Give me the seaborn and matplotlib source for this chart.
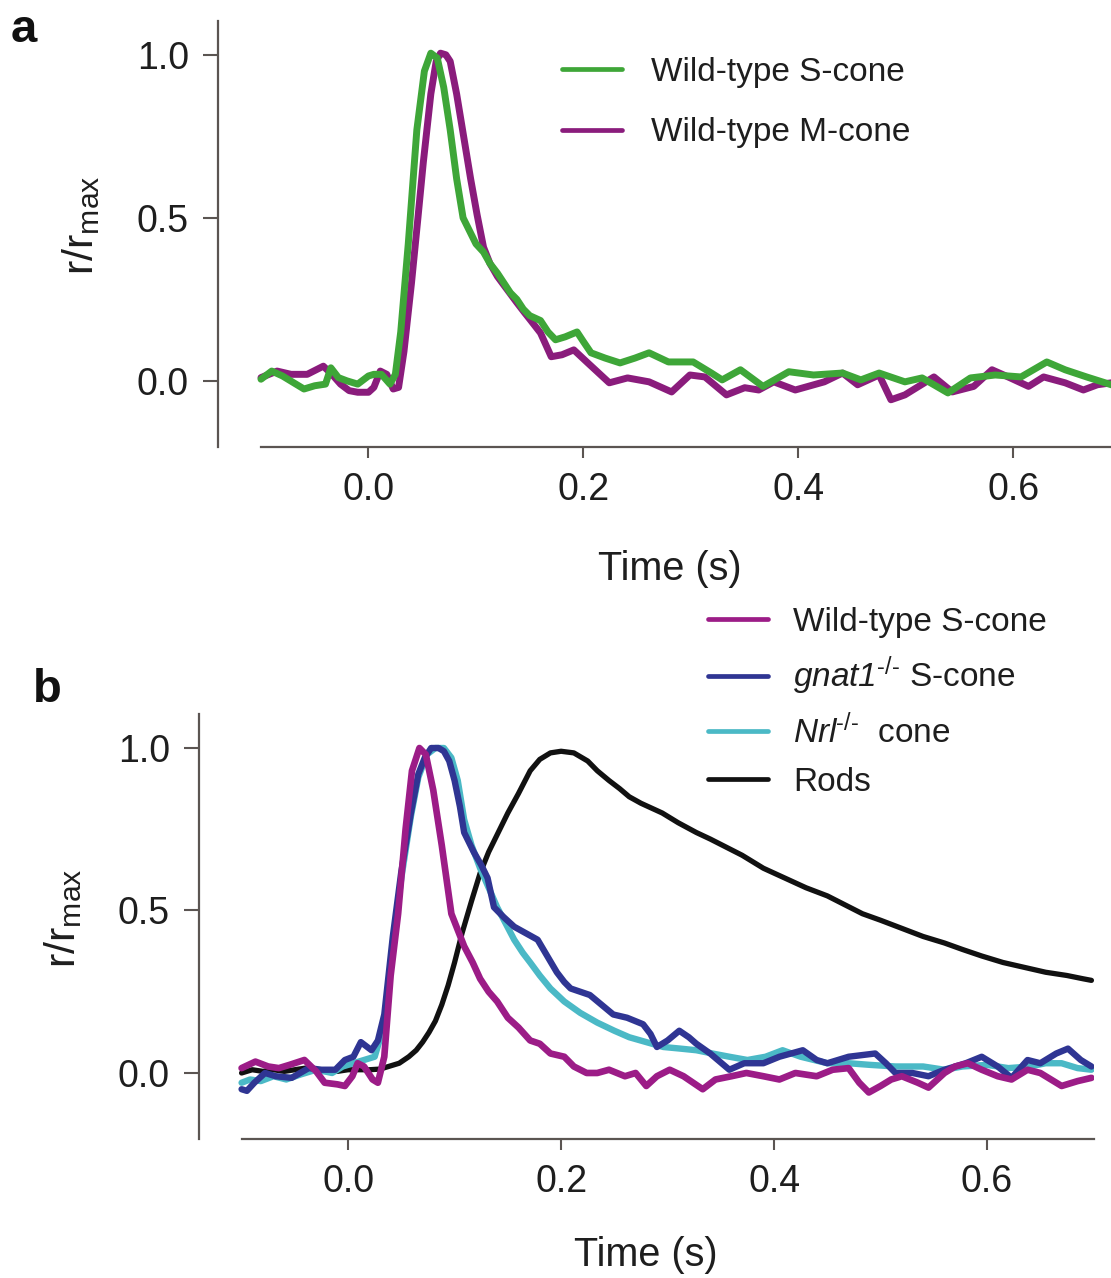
import numpy as np
import pandas as pd
import matplotlib
matplotlib.use("Agg")
import matplotlib.pyplot as plt
import seaborn as sns

# ---- panel a: wild-type S-cone vs M-cone ----
a_s_time = [-0.100, -0.090, -0.080, -0.070, -0.060, -0.050, -0.040, -0.035, -0.028, -0.020,
            -0.010, 0.000, 0.005, 0.012, 0.020, 0.025, 0.030, 0.037, 0.045, 0.052,
            0.058, 0.064, 0.070, 0.076, 0.082, 0.088, 0.094, 0.100, 0.107, 0.113,
            0.120, 0.126, 0.132, 0.138, 0.144, 0.150, 0.160, 0.167, 0.174, 0.183,
            0.194, 0.200, 0.207, 0.220, 0.234, 0.248, 0.261, 0.279, 0.302, 0.319,
            0.329, 0.346, 0.367, 0.391, 0.414, 0.441, 0.458, 0.475, 0.499, 0.515,
            0.539, 0.560, 0.583, 0.607, 0.631, 0.648, 0.668, 0.691, 0.700]
a_s_resp = [0.005, 0.030, 0.015, -0.005, -0.025, -0.015, -0.010, 0.040, 0.010, 0.000,
            -0.010, 0.015, 0.020, 0.020, -0.010, 0.020, 0.150, 0.420, 0.770, 0.950,
            1.005, 0.990, 0.900, 0.770, 0.620, 0.500, 0.460, 0.420, 0.395, 0.360,
            0.330, 0.300, 0.270, 0.250, 0.220, 0.200, 0.185, 0.150, 0.126, 0.135,
            0.150, 0.120, 0.086, 0.070, 0.055, 0.070, 0.086, 0.058, 0.058, 0.024,
            0.003, 0.034, -0.017, 0.028, 0.018, 0.024, 0.003, 0.024, -0.003, 0.009,
            -0.037, 0.009, 0.018, 0.012, 0.058, 0.034, 0.012, -0.012, -0.015]

a_m_time = [-0.100, -0.085, -0.072, -0.057, -0.042, -0.034, -0.026, -0.018, -0.010, 0.000,
            0.005, 0.011, 0.017, 0.023, 0.028, 0.033, 0.040, 0.046, 0.051, 0.058,
            0.063, 0.067, 0.072, 0.076, 0.082, 0.089, 0.095, 0.101, 0.107, 0.113,
            0.120, 0.129, 0.138, 0.145, 0.151, 0.160, 0.170, 0.180, 0.191, 0.204,
            0.224, 0.241, 0.261, 0.282, 0.299, 0.313, 0.333, 0.350, 0.363, 0.377,
            0.397, 0.424, 0.441, 0.455, 0.475, 0.486, 0.499, 0.526, 0.543, 0.563,
            0.580, 0.597, 0.614, 0.628, 0.648, 0.665, 0.678, 0.691, 0.700]
a_m_resp = [0.010, 0.030, 0.020, 0.020, 0.045, 0.020, -0.010, -0.030, -0.035, -0.035,
            -0.020, 0.030, 0.020, -0.025, -0.020, 0.090, 0.300, 0.500, 0.670, 0.880,
            0.980, 1.005, 1.000, 0.980, 0.880, 0.740, 0.620, 0.510, 0.410, 0.360,
            0.320, 0.280, 0.240, 0.210, 0.185, 0.147, 0.074, 0.080, 0.095, 0.055,
            -0.006, 0.009, -0.003, -0.034, 0.018, 0.012, -0.043, -0.021, -0.028, -0.003,
            -0.028, -0.003, 0.024, -0.012, 0.018, -0.058, -0.043, 0.012, -0.034, -0.017,
            0.034, 0.009, -0.017, 0.012, -0.006, -0.028, -0.012, -0.006, -0.010]

# ---- panel b: S-cone, gnat1-/- S-cone, Nrl-/- cone, rods ----
b_wt_time = [-0.100, -0.087, -0.075, -0.065, -0.055, -0.041, -0.030, -0.022, -0.010, -0.003,
             0.004, 0.009, 0.015, 0.023, 0.028, 0.034, 0.040, 0.047, 0.054, 0.060,
             0.067, 0.073, 0.080, 0.088, 0.097, 0.103, 0.109, 0.117, 0.124, 0.132,
             0.140, 0.150, 0.160, 0.171, 0.180, 0.190, 0.203, 0.212, 0.224, 0.234,
             0.245, 0.260, 0.270, 0.280, 0.290, 0.302, 0.315, 0.333, 0.345, 0.360,
             0.374, 0.390, 0.405, 0.420, 0.440, 0.455, 0.470, 0.480, 0.489, 0.500,
             0.510, 0.520, 0.535, 0.545, 0.560, 0.570, 0.582, 0.595, 0.610, 0.623,
             0.638, 0.650, 0.660, 0.670, 0.685, 0.698]
b_wt_resp = [0.015, 0.035, 0.020, 0.015, 0.025, 0.040, 0.005, -0.030, -0.035, -0.040,
             -0.010, 0.030, 0.020, -0.020, -0.030, 0.050, 0.300, 0.490, 0.750, 0.930,
             1.000, 0.980, 0.870, 0.700, 0.490, 0.440, 0.390, 0.340, 0.290, 0.250,
             0.220, 0.170, 0.140, 0.100, 0.090, 0.060, 0.050, 0.020, 0.000, 0.000,
             0.010, -0.010, 0.000, -0.040, -0.010, 0.010, -0.010, -0.050, -0.020, -0.010,
             0.000, -0.010, -0.020, 0.000, -0.010, 0.010, 0.015, -0.030, -0.060, -0.040,
             -0.020, -0.010, -0.030, -0.045, 0.000, 0.020, 0.030, 0.010, -0.010, -0.020,
             0.010, 0.000, -0.020, -0.040, -0.025, -0.015]

b_gnat_time = [-0.100, -0.095, -0.088, -0.078, -0.068, -0.053, -0.045, -0.037, -0.025, -0.012,
               -0.003, 0.005, 0.012, 0.018, 0.022, 0.028, 0.034, 0.042, 0.050, 0.059,
               0.066, 0.072, 0.078, 0.085, 0.090, 0.095, 0.100, 0.105, 0.109, 0.118,
               0.125, 0.131, 0.137, 0.146, 0.156, 0.167, 0.178, 0.187, 0.196, 0.203,
               0.209, 0.218, 0.227, 0.238, 0.249, 0.262, 0.277, 0.284, 0.290, 0.300,
               0.311, 0.320, 0.327, 0.340, 0.358, 0.372, 0.390, 0.405, 0.427, 0.440,
               0.450, 0.470, 0.495, 0.505, 0.514, 0.530, 0.545, 0.560, 0.580, 0.595,
               0.610, 0.623, 0.638, 0.650, 0.665, 0.676, 0.688, 0.698]
b_gnat_resp = [-0.050, -0.055, -0.030, 0.000, -0.010, -0.015, 0.000, 0.015, 0.010, 0.010,
               0.040, 0.050, 0.095, 0.080, 0.070, 0.100, 0.180, 0.420, 0.620, 0.800,
               0.920, 0.970, 1.000, 1.000, 0.990, 0.960, 0.900, 0.820, 0.740, 0.680,
               0.640, 0.600, 0.510, 0.480, 0.450, 0.430, 0.410, 0.360, 0.310, 0.280,
               0.260, 0.250, 0.240, 0.210, 0.180, 0.170, 0.150, 0.120, 0.080, 0.100,
               0.130, 0.110, 0.090, 0.060, 0.010, 0.030, 0.030, 0.050, 0.070, 0.040,
               0.030, 0.050, 0.060, 0.030, 0.000, 0.000, -0.010, 0.010, 0.030, 0.050,
               0.020, -0.015, 0.040, 0.030, 0.060, 0.075, 0.040, 0.020]

b_nrl_time = [-0.100, -0.092, -0.082, -0.070, -0.058, -0.045, -0.030, -0.015, -0.005, 0.005,
              0.015, 0.025, 0.034, 0.042, 0.050, 0.059, 0.066, 0.074, 0.082, 0.090,
              0.097, 0.103, 0.109, 0.116, 0.124, 0.132, 0.140, 0.148, 0.156, 0.164,
              0.171, 0.180, 0.190, 0.203, 0.218, 0.234, 0.250, 0.264, 0.280, 0.296,
              0.312, 0.327, 0.342, 0.358, 0.375, 0.392, 0.408, 0.425, 0.450, 0.470,
              0.490, 0.514, 0.540, 0.560, 0.577, 0.600, 0.620, 0.640, 0.655, 0.670,
              0.685, 0.698]
b_nrl_resp = [-0.030, -0.020, -0.025, -0.010, -0.020, -0.005, 0.010, 0.000, 0.020, 0.030,
              0.040, 0.050, 0.150, 0.400, 0.600, 0.790, 0.910, 0.980, 1.000, 1.000,
              0.970, 0.900, 0.780, 0.700, 0.630, 0.570, 0.510, 0.460, 0.410, 0.370,
              0.340, 0.300, 0.260, 0.220, 0.185, 0.155, 0.130, 0.110, 0.095, 0.080,
              0.075, 0.070, 0.060, 0.050, 0.040, 0.050, 0.070, 0.050, 0.030, 0.030,
              0.025, 0.020, 0.020, 0.010, 0.020, 0.025, 0.015, 0.020, 0.030, 0.030,
              0.015, 0.010]

b_rod_time = [-0.100, -0.090, -0.080, -0.070, -0.060, -0.050, -0.040, -0.030, -0.020, -0.010,
              0.000, 0.010, 0.020, 0.030, 0.038, 0.048, 0.057, 0.064, 0.070, 0.076,
              0.082, 0.088, 0.094, 0.100, 0.107, 0.116, 0.124, 0.132, 0.141, 0.150,
              0.160, 0.171, 0.180, 0.190, 0.200, 0.212, 0.225, 0.234, 0.245, 0.255,
              0.264, 0.275, 0.285, 0.295, 0.310, 0.327, 0.340, 0.355, 0.370, 0.390,
              0.410, 0.430, 0.450, 0.465, 0.483, 0.500, 0.520, 0.540, 0.560, 0.577,
              0.595, 0.615, 0.635, 0.655, 0.675, 0.690, 0.698]
b_rod_resp = [0.000, 0.010, 0.005, 0.010, 0.005, 0.010, 0.015, 0.010, 0.010, 0.005,
              0.010, 0.010, 0.010, 0.012, 0.020, 0.030, 0.050, 0.070, 0.095, 0.125,
              0.160, 0.210, 0.270, 0.340, 0.430, 0.530, 0.615, 0.680, 0.740, 0.800,
              0.860, 0.930, 0.965, 0.985, 0.990, 0.985, 0.960, 0.930, 0.900, 0.875,
              0.850, 0.830, 0.815, 0.800, 0.770, 0.740, 0.720, 0.695, 0.670, 0.630,
              0.600, 0.570, 0.545, 0.520, 0.490, 0.470, 0.445, 0.420, 0.400, 0.380,
              0.360, 0.340, 0.325, 0.310, 0.300, 0.290, 0.285]

y_ticks = [0.0, 0.5, 1.0]
x_ticks = [0.0, 0.2, 0.4, 0.6]

sns.set_theme(style="ticks")
plt.rcParams['font.family'] = ['Liberation Sans', 'DejaVu Sans']
plt.rcParams['mathtext.fontset'] = 'custom'
plt.rcParams['mathtext.rm'] = 'Liberation Sans'
plt.rcParams['mathtext.it'] = 'Liberation Sans:italic'
plt.rcParams['mathtext.sf'] = 'Liberation Sans:italic'
plt.rcParams['mathtext.bf'] = 'Liberation Sans:bold'
plt.rcParams['lines.solid_joinstyle'] = 'round'
plt.rcParams['lines.solid_capstyle'] = 'round'

fig = plt.figure(figsize=(11.11, 12.78), dpi=100)
ax_a = fig.add_axes([0.1962, 0.6502, 0.8128, 0.3337])
ax_b = fig.add_axes([0.1791, 0.1088, 0.8052, 0.3326])

spine_col = '#5b5552'
text_col = '#1e1e1e'


def style_axis(ax, xlabelpad):
    ax.set_xlim(-0.14, 0.70)
    ax.set_ylim(-0.203, 1.105)
    ax.set_xticks(x_ticks)
    ax.set_xticklabels([f"{v:.1f}" for v in x_ticks])
    ax.set_yticks(y_ticks)
    ax.set_yticklabels([f"{v:.1f}" for v in y_ticks])
    sns.despine(ax=ax)
    ax.spines['bottom'].set_bounds(-0.1, 0.7)
    for s in ['left', 'bottom']:
        ax.spines[s].set_color(spine_col)
        ax.spines[s].set_linewidth(1.6)
    ax.tick_params(axis='both', direction='out', length=8, width=1.5,
                   color=spine_col, labelsize=27, labelcolor=text_col, pad=10)
    ax.tick_params(axis='y', length=11)
    ax.set_xlabel('Time (s)', fontsize=28.5, color=text_col, labelpad=xlabelpad)
    ax.set_ylabel(r'r/r$_{\mathrm{max}}$', fontsize=31, color=text_col)
    ax.yaxis.set_label_coords(-0.128, 0.52)
    ax.set_facecolor('white')


# panel a
sns.lineplot(x=a_m_time, y=a_m_resp, ax=ax_a, color='#8a1c7c', lw=5.0,
             label='Wild-type M-cone')
sns.lineplot(x=a_s_time, y=a_s_resp, ax=ax_a, color='#3ea638', lw=5.0,
             label='Wild-type S-cone')
style_axis(ax_a, 30)
h, l = ax_a.get_legend_handles_labels()
leg_a = ax_a.legend([h[1], h[0]], [l[1], l[0]], loc='upper left',
                    bbox_to_anchor=(562 / 1111, 1 - 57 / 1278),
                    bbox_transform=fig.transFigure, frameon=False, fontsize=24,
                    handlelength=1.8, handletextpad=0.88, labelspacing=0.88,
                    borderpad=0, borderaxespad=0)
for t in leg_a.get_texts():
    t.set_color(text_col)
for ln in leg_a.legend_handles:
    ln.set_linewidth(3.4)

# panel b
sns.lineplot(x=b_rod_time, y=b_rod_resp, ax=ax_b, color='#111111', lw=3.8, label='Rods')
sns.lineplot(x=b_nrl_time, y=b_nrl_resp, ax=ax_b, color='#4bb9c6', lw=4.6,
             label=r'$\mathsf{Nrl}^{\text{-/-}}$  cone')
sns.lineplot(x=b_gnat_time, y=b_gnat_resp, ax=ax_b, color='#2f3593', lw=4.6,
             label=r'$\mathsf{gnat1}^{\text{-/-}}$ S-cone')
sns.lineplot(x=b_wt_time, y=b_wt_resp, ax=ax_b, color='#9c1c87', lw=4.8,
             label='Wild-type S-cone')
style_axis(ax_b, 26)
h, l = ax_b.get_legend_handles_labels()
order = [3, 2, 1, 0]
leg_b = ax_b.legend([h[i] for i in order], [l[i] for i in order], loc='upper left',
                    bbox_to_anchor=(708 / 1111, 1 - 607 / 1278),
                    bbox_transform=fig.transFigure, frameon=False, fontsize=24,
                    handlelength=1.8, handletextpad=0.76, labelspacing=0.5,
                    borderpad=0, borderaxespad=0)
for t in leg_b.get_texts():
    t.set_color(text_col)
for ln in leg_b.legend_handles:
    ln.set_linewidth(3.4)

fig.text(11 / 1111, 1 - 42 / 1278, 'a', fontsize=34, fontweight='bold',
         ha='left', va='baseline', color='#111111')
fig.text(33 / 1111, 1 - 702 / 1278, 'b', fontsize=34, fontweight='bold',
         ha='left', va='baseline', color='#111111')

fig.savefig('out.png', dpi=100, facecolor='white')
